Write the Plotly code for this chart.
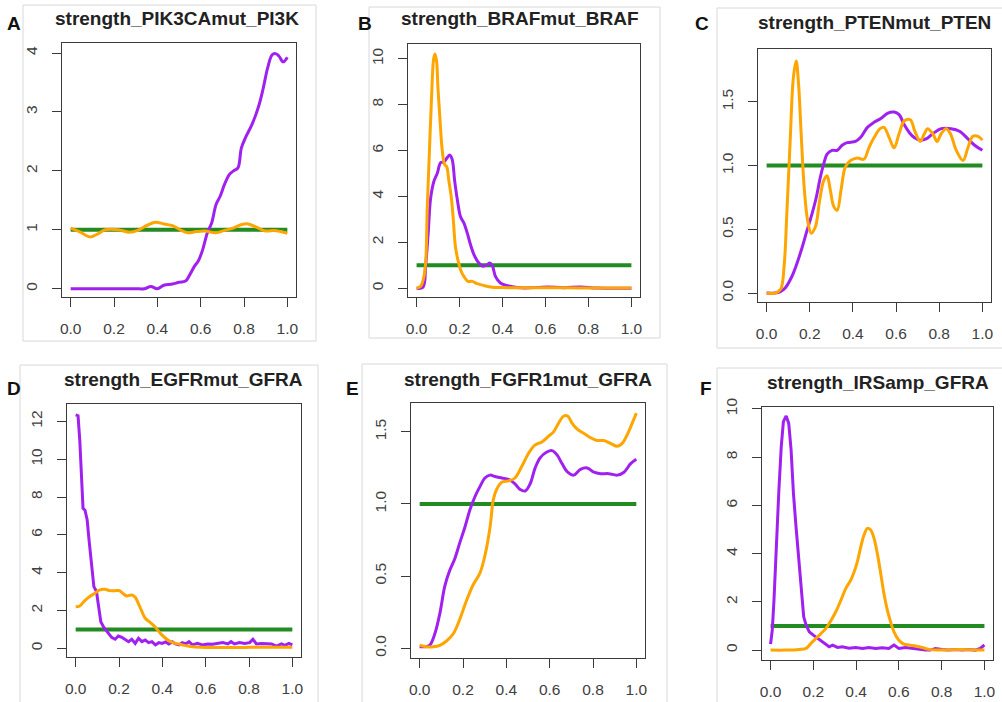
import plotly.graph_objects as go

# ---------------- data ----------------
# A: strength_PIK3CAmut_PI3K
a_purple_x = [0, 0.1, 0.2, 0.3, 0.34, 0.37, 0.40, 0.43, 0.47, 0.50, 0.53, 0.55, 0.571, 0.589, 0.609, 0.631,
              0.651, 0.671, 0.69, 0.71, 0.733, 0.752, 0.772, 0.788, 0.809, 0.837, 0.868, 0.888, 0.91, 0.93,
              0.946, 0.961, 0.981, 1.0]
a_purple_y = [0, 0, 0, 0, 0.0, 0.04, 0.0, 0.06, 0.08, 0.11, 0.13, 0.24, 0.38, 0.47, 0.66, 0.95,
              1.12, 1.43, 1.57, 1.77, 1.94, 2.0, 2.05, 2.39, 2.58, 2.79, 3.1, 3.39, 3.76, 3.97,
              3.99, 3.95, 3.85, 3.93]
a_orange_x = [0, 0.04, 0.09, 0.13, 0.16, 0.22, 0.27, 0.31, 0.35, 0.39, 0.43, 0.47, 0.51, 0.54, 0.58, 0.62,
              0.67, 0.71, 0.75, 0.79, 0.82, 0.86, 0.9, 0.94, 0.97, 1.0]
a_orange_y = [1.03, 0.97, 0.88, 0.94, 1.0, 1.0, 0.96, 0.99, 1.07, 1.13, 1.1, 1.07, 0.99, 0.95, 0.97, 0.98,
              0.95, 0.99, 1.03, 1.09, 1.1, 1.04, 0.98, 0.99, 0.97, 0.94]

# B: strength_BRAFmut_BRAF
b_purple_x = [0, 0.03, 0.042, 0.054, 0.065, 0.081, 0.096, 0.112, 0.127, 0.143, 0.155, 0.166, 0.177, 0.189,
              0.205, 0.22, 0.236, 0.251, 0.267, 0.29, 0.31, 0.329, 0.34, 0.352, 0.367, 0.39, 0.42, 0.468,
              0.53, 0.608, 0.685, 0.763, 0.84, 1.0]
b_purple_y = [0, 0.05, 0.96, 2.4, 3.9, 4.67, 5.0, 5.47, 5.5, 5.7, 5.8, 5.6, 4.7, 3.9,
              3.1, 2.85, 2.4, 1.9, 1.47, 1.1, 0.96, 1.03, 1.1, 1.0, 0.52, 0.23, 0.12, 0.03,
              0.02, 0.06, 0.02, 0.06, 0.01, 0.0]
b_orange_x = [0, 0.019, 0.031, 0.042, 0.05, 0.06, 0.07, 0.079, 0.085, 0.093, 0.099, 0.109, 0.119, 0.13,
              0.14, 0.15, 0.161, 0.17, 0.181, 0.192, 0.205, 0.22, 0.239, 0.259, 0.282, 0.313, 0.344,
              0.39, 0.5, 0.6, 0.7, 0.8, 0.9, 1.0]
b_orange_y = [0, 0.09, 0.38, 1.1, 3.6, 6.05, 8.4, 9.97, 10.2, 9.9, 8.8, 7.35, 6.05, 5.4,
              5.3, 4.7, 4.0, 3.1, 1.8, 1.25, 0.8, 0.52, 0.3, 0.3, 0.2, 0.12, 0.06,
              0.03, 0.02, 0.02, 0.02, 0.01, 0.01, 0.01]

# C: strength_PTENmut_PTEN
c_purple_x = [0, 0.039, 0.062, 0.086, 0.117, 0.14, 0.163, 0.187, 0.21, 0.23, 0.249, 0.264, 0.28, 0.303,
              0.327, 0.35, 0.373, 0.412, 0.435, 0.467, 0.498, 0.529, 0.56, 0.591, 0.614, 0.638, 0.661,
              0.684, 0.712, 0.739, 0.77, 0.809, 0.855, 0.894, 0.933, 0.964, 1.0]
c_purple_y = [0, 0, 0.01, 0.04, 0.13, 0.23, 0.35, 0.49, 0.62, 0.75, 0.91, 1.01, 1.09, 1.12,
              1.12, 1.16, 1.18, 1.19, 1.22, 1.3, 1.34, 1.37, 1.41, 1.42, 1.4, 1.32, 1.26,
              1.22, 1.2, 1.21, 1.25, 1.29, 1.29, 1.27, 1.21, 1.16, 1.12]
c_orange_x = [0, 0.039, 0.065, 0.081, 0.093, 0.109, 0.124, 0.137, 0.148, 0.16, 0.174, 0.19, 0.207, 0.226,
              0.246, 0.264, 0.28, 0.295, 0.311, 0.327, 0.345, 0.365, 0.389, 0.42, 0.451, 0.474, 0.498,
              0.526, 0.544, 0.568, 0.591, 0.614, 0.638, 0.666, 0.687, 0.712, 0.731, 0.746, 0.77, 0.79,
              0.809, 0.832, 0.852, 0.879, 0.91, 0.933, 0.956, 0.98, 1.0]
c_orange_y = [0, 0, 0.03, 0.21, 0.6, 1.19, 1.69, 1.82, 1.64, 1.25, 0.83, 0.57, 0.47, 0.52,
              0.73, 0.88, 0.92, 0.81, 0.68, 0.65, 0.81, 0.99, 1.04, 1.06, 1.05, 1.14, 1.22,
              1.29, 1.3, 1.22, 1.14, 1.25, 1.35, 1.36, 1.27, 1.19, 1.25, 1.29, 1.25, 1.19,
              1.25, 1.29, 1.25, 1.12, 1.04, 1.14, 1.23, 1.23, 1.2]

# D: strength_EGFRmut_GFRA
d_purple_x = [0, 0.011, 0.019, 0.026, 0.034, 0.043, 0.053, 0.062, 0.073, 0.084, 0.096, 0.106, 0.116,
              0.13, 0.146, 0.166, 0.182, 0.197, 0.213, 0.228, 0.244, 0.259, 0.275, 0.29, 0.306, 0.321,
              0.337, 0.352, 0.368, 0.384, 0.399, 0.415, 0.43, 0.446, 0.461, 0.477, 0.492, 0.508, 0.523,
              0.539, 0.562, 0.585, 0.609, 0.632, 0.655, 0.679, 0.702, 0.717, 0.733, 0.756, 0.78, 0.803,
              0.818, 0.834, 0.857, 0.88, 0.904, 0.927, 0.95, 0.966, 0.984, 1.0]
d_purple_y = [12.35, 12.3, 11.0, 9.26, 7.4, 7.3, 6.8, 5.7, 4.3, 3.26, 3.0, 2.2, 1.4,
              1.1, 0.88, 0.58, 0.48, 0.65, 0.58, 0.48, 0.35, 0.48, 0.26, 0.53, 0.35, 0.44,
              0.3, 0.35, 0.18, 0.3, 0.26, 0.34, 0.23, 0.34, 0.23, 0.18, 0.3, 0.23, 0.35,
              0.18, 0.26, 0.18, 0.23, 0.21, 0.26, 0.3, 0.23, 0.35, 0.23, 0.3, 0.26, 0.3,
              0.48, 0.23, 0.26, 0.23, 0.23, 0.12, 0.23, 0.16, 0.26, 0.18]
d_orange_x = [0, 0.019, 0.042, 0.065, 0.089, 0.112, 0.135, 0.158, 0.182, 0.202, 0.22, 0.236, 0.259,
              0.275, 0.29, 0.306, 0.321, 0.345, 0.368, 0.391, 0.415, 0.438, 0.461, 0.492, 0.531,
              0.578, 0.655, 0.81, 1.0]
d_orange_y = [2.2, 2.24, 2.52, 2.74, 2.91, 3.09, 3.12, 3.05, 3.05, 3.05, 2.88, 2.77, 2.82,
              2.7, 2.35, 1.94, 1.59, 1.36, 1.11, 0.79, 0.53, 0.35, 0.26, 0.18, 0.09,
              0.05, 0.04, 0.05, 0.05]

# E: strength_FGFR1mut_GFRA
e_purple_x = [0, 0.023, 0.046, 0.07, 0.093, 0.116, 0.139, 0.162, 0.185, 0.209, 0.232, 0.255, 0.278,
              0.301, 0.325, 0.348, 0.379, 0.41, 0.44, 0.464, 0.487, 0.51, 0.533, 0.556, 0.587, 0.611,
              0.634, 0.657, 0.683, 0.711, 0.742, 0.773, 0.804, 0.835, 0.873, 0.912, 0.943, 0.974, 1.0]
e_purple_y = [0.01, 0.01, 0.02, 0.1, 0.24, 0.43, 0.54, 0.62, 0.73, 0.84, 0.96, 1.05, 1.12,
              1.18, 1.2, 1.19, 1.18, 1.17, 1.14, 1.1, 1.09, 1.14, 1.25, 1.32, 1.36, 1.37,
              1.34, 1.28, 1.22, 1.2, 1.24, 1.25, 1.22, 1.21, 1.21, 1.2, 1.22, 1.28, 1.31]
e_orange_x = [0, 0.031, 0.062, 0.093, 0.124, 0.155, 0.185, 0.216, 0.247, 0.278, 0.301, 0.325, 0.34,
              0.355, 0.379, 0.41, 0.44, 0.471, 0.502, 0.533, 0.564, 0.595, 0.618, 0.641, 0.665, 0.683,
              0.703, 0.726, 0.757, 0.788, 0.819, 0.85, 0.881, 0.912, 0.935, 0.958, 0.981, 1.0]
e_orange_y = [0.02, 0.01, 0.01, 0.02, 0.05, 0.1, 0.2, 0.33, 0.44, 0.52, 0.64, 0.84, 1.03,
              1.1, 1.15, 1.16, 1.18, 1.26, 1.35, 1.41, 1.43, 1.47, 1.5, 1.56, 1.61, 1.61,
              1.56, 1.52, 1.49, 1.46, 1.44, 1.44, 1.42, 1.4, 1.42, 1.48, 1.56, 1.63]

# F: strength_IRSamp_GFRA
f_purple_x = [0, 0.008, 0.016, 0.026, 0.039, 0.05, 0.06, 0.073, 0.085, 0.096, 0.107, 0.119, 0.132,
              0.143, 0.155, 0.166, 0.181, 0.2, 0.22, 0.243, 0.259, 0.274, 0.29, 0.313, 0.336, 0.367,
              0.398, 0.43, 0.46, 0.491, 0.522, 0.553, 0.577, 0.6, 0.631, 0.662, 0.693, 0.724, 0.747,
              0.771, 0.802, 0.833, 0.864, 0.895, 0.926, 0.957, 0.98, 1.0]
f_purple_y = [0.25, 0.83, 2.07, 4.29, 6.64, 8.44, 9.47, 9.71, 9.4, 8.3, 6.5, 5.12, 3.73,
              2.35, 1.38, 1.04, 0.76, 0.62, 0.48, 0.35, 0.21, 0.14, 0.21, 0.11, 0.14, 0.08,
              0.11, 0.07, 0.11, 0.07, 0.1, 0.07, 0.21, 0.07, 0.11, 0.07, 0.03, 0.0, 0.0,
              0.07, 0.03, 0.0, 0.03, 0.0, 0.03, 0.0, 0.07, 0.21]
f_orange_x = [0, 0.073, 0.135, 0.166, 0.189, 0.212, 0.236, 0.259, 0.282, 0.305, 0.329, 0.352, 0.375,
              0.391, 0.406, 0.422, 0.437, 0.453, 0.468, 0.484, 0.499, 0.515, 0.53, 0.546, 0.561, 0.577,
              0.6, 0.623, 0.647, 0.678, 0.709, 0.74, 0.802, 0.879, 1.0]
f_orange_y = [0.0, 0.0, 0.03, 0.07, 0.28, 0.48, 0.69, 0.9, 1.22, 1.59, 2.07, 2.56, 2.9,
              3.25, 3.67, 4.29, 4.77, 5.05, 4.98, 4.63, 4.01, 3.18, 2.35, 1.66, 1.18, 0.76,
              0.41, 0.25, 0.21, 0.17, 0.11, 0.03, 0.0, 0.03, 0.0]

# reference level drawn in every panel
ref_x = [0, 1]
ref_y = [1, 1]

titles = ["strength_PIK3CAmut_PI3K", "strength_BRAFmut_BRAF", "strength_PTENmut_PTEN",
          "strength_EGFRmut_GFRA", "strength_FGFR1mut_GFRA", "strength_IRSamp_GFRA"]
letters = ["A", "B", "C", "D", "E", "F"]
y_tick_steps = [1, 2, 0.5, 2, 0.5, 2]
y_tick_formats = ["d", "d", ".1f", "d", ".1f", "d"]

series = [
    (a_purple_x, a_purple_y, a_orange_x, a_orange_y, "spline"),
    (b_purple_x, b_purple_y, b_orange_x, b_orange_y, "spline"),
    (c_purple_x, c_purple_y, c_orange_x, c_orange_y, "spline"),
    (d_purple_x, d_purple_y, d_orange_x, d_orange_y, "linear"),
    (e_purple_x, e_purple_y, e_orange_x, e_orange_y, "spline"),
    (f_purple_x, f_purple_y, f_orange_x, f_orange_y, "linear"),
]

# ---------------- layout geometry (page pixels) ----------------
W, H = 1002, 702
# plot box: left, top, right, bottom
boxes = [(62, 43, 296, 297), (408, 44, 640, 297), (758, 49, 991, 302),
         (67, 404, 301, 657), (411, 403, 645, 658), (762, 407, 993, 660)]
y_ranges = [[-0.14, 4.17], [-0.38, 10.64], [-0.07, 1.915],
            [-0.46, 12.92], [-0.068, 1.70], [-0.41, 10.08]]
x_range = [-0.04, 1.04]
title_pos = [(177, 18), (520, 18), (874, 23), (183, 379), (528, 379), (878, 382)]
letter_pos = [(14, 24), (365, 24), (702, 24), (14, 388), (352, 388), (706, 388)]
# light frames around each panel: x0, y0, x1, y1
frames = [(23, 5, 316, 341), (369, 7, 660, 338), (717, 8, 1010, 348),
          (20, 365, 318, 712), (362, 364, 667, 712), (717, 368, 1010, 712)]

PURPLE = "#A020F0"
ORANGE = "#FFA500"
GREEN = "#228B22"
AXIS_COL = "#3a3a3a"
FONT = "Arial, Liberation Sans, sans-serif"
TICK_FONT = dict(family=FONT, size=15.5, color="#404040")

fig = go.Figure()
layout = dict(width=W, height=H, margin=dict(l=0, r=0, t=0, b=0), autosize=False,
              paper_bgcolor="white", plot_bgcolor="white", showlegend=False,
              annotations=[], shapes=[])

for i in range(6):
    n = "" if i == 0 else str(i + 1)
    xa, ya = "x" + n, "y" + n
    l, t, r, b = boxes[i]
    px, py, ox, oy, shape = series[i]
    fig.add_trace(go.Scatter(x=ref_x, y=ref_y, mode="lines", xaxis=xa, yaxis=ya,
                             line=dict(color=GREEN, width=4)))
    fig.add_trace(go.Scatter(x=px, y=py, mode="lines", xaxis=xa, yaxis=ya,
                             line=dict(color=PURPLE, width=3, shape=shape)))
    fig.add_trace(go.Scatter(x=ox, y=oy, mode="lines", xaxis=xa, yaxis=ya,
                             line=dict(color=ORANGE, width=3, shape="spline")))
    layout["xaxis" + n] = dict(domain=[l / W, r / W], range=x_range, anchor=ya,
                               tick0=0, dtick=0.2, tickformat=".1f", ticks="outside",
                               ticklen=9, tickcolor=AXIS_COL, tickwidth=1.2,
                               showline=True, linecolor=AXIS_COL, linewidth=1.2, mirror=True,
                               showgrid=False, zeroline=False, tickfont=TICK_FONT,
                               ticklabelstandoff=8, automargin=False)
    layout["yaxis" + n] = dict(domain=[1 - b / H, 1 - t / H], range=y_ranges[i], anchor=xa,
                               tick0=0, dtick=y_tick_steps[i], tickformat=y_tick_formats[i],
                               ticks="outside", ticklen=9, tickcolor=AXIS_COL, tickwidth=1.2,
                               showline=True, linecolor=AXIS_COL, linewidth=1.2, mirror=True,
                               showgrid=False, zeroline=False, tickfont=TICK_FONT,
                               tickangle=-90, ticklabelstandoff=9, automargin=False)
    tx, ty = title_pos[i]
    layout["annotations"].append(dict(text="<b>%s</b>" % titles[i], x=tx / W, y=1 - ty / H,
                                      xref="paper", yref="paper", showarrow=False,
                                      xanchor="center", yanchor="middle",
                                      font=dict(family=FONT, size=19, color="#222222")))
    lx, ly = letter_pos[i]
    layout["annotations"].append(dict(text="<b>%s</b>" % letters[i], x=lx / W, y=1 - ly / H,
                                      xref="paper", yref="paper", showarrow=False,
                                      xanchor="center", yanchor="middle",
                                      font=dict(family=FONT, size=19, color="#111111")))
    fx0, fy0, fx1, fy1 = frames[i]
    layout["shapes"].append(dict(type="rect", xref="paper", yref="paper",
                                 x0=fx0 / W, x1=fx1 / W, y0=1 - fy1 / H, y1=1 - fy0 / H,
                                 line=dict(color="#d8d8d8", width=1), layer="below"))

fig.update_layout(**layout)
fig.write_html("out.html")
